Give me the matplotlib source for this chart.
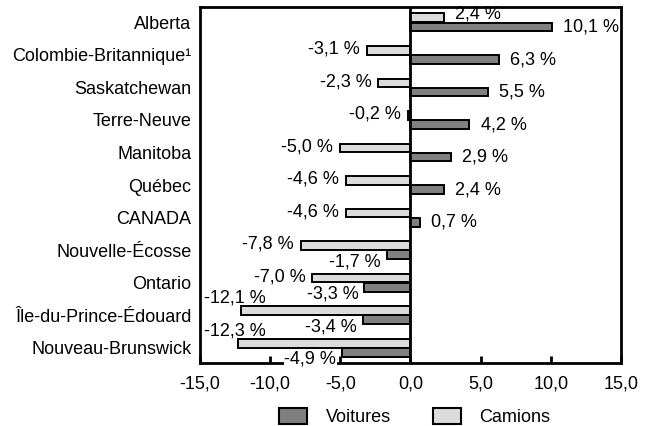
import numpy as np
import matplotlib
matplotlib.use("Agg")
import matplotlib.pyplot as plt
from matplotlib.patches import Patch

plt.rcParams['font.family'] = ['Liberation Sans', 'DejaVu Sans']

# provinces, du haut vers le bas
provinces = ["Alberta", "Colombie-Britannique¹", "Saskatchewan", "Terre-Neuve",
             "Manitoba", "Québec", "CANADA", "Nouvelle-Écosse", "Ontario",
             "Île-du-Prince-Édouard", "Nouveau-Brunswick"]
voitures = [10.1, 6.3, 5.5, 4.2, 2.9, 2.4, 0.7, -1.7, -3.3, -3.4, -4.9]
camions = [2.4, -3.1, -2.3, -0.2, -5.0, -4.6, -4.6, -7.8, -7.0, -12.1, -12.3]
xticks = [-15, -10, -5, 0, 5, 10, 15]

c_voit = "#808080"
c_cam = "#dcdcdc"
fs = 13

def fmt(v):
    return ("%.1f %%" % v).replace(".", ",")

fig = plt.figure(figsize=(6.49, 4.26), dpi=100)
ax = fig.add_axes([0.308, 0.148, 0.649, 0.836])

y = np.arange(len(provinces))
h = 0.27
ax.barh(y - 0.14, camions, height=h, color=c_cam, edgecolor="black", linewidth=1.4, zorder=2)
ax.barh(y + 0.14, voitures, height=h, color=c_voit, edgecolor="black", linewidth=1.4, zorder=2)

ax.set_xlim(-15, 15)
ax.set_ylim(10.47, -0.48)
ax.axvline(0, color="black", lw=2, zorder=3)

# etiquettes camions
for yi, v in zip(y, camions):
    if v >= 0:
        ax.annotate(fmt(v), (v, yi - 0.14), xytext=(8, 3), textcoords="offset points",
                    ha="left", va="center", fontsize=fs, zorder=4)
    elif v < -10.5:
        # pas de place a gauche: on met au-dessus
        ax.annotate(fmt(v), (-15, yi - 0.14), xytext=(3, 9), textcoords="offset points",
                    ha="left", va="center", fontsize=fs, zorder=4)
    else:
        ax.annotate(fmt(v), (v, yi - 0.14), xytext=(-5, 1), textcoords="offset points",
                    ha="right", va="center", fontsize=fs, zorder=4)

# etiquettes voitures
for yi, v in zip(y, voitures):
    if v >= 0:
        ax.annotate(fmt(v), (v, yi + 0.14), xytext=(8, 0), textcoords="offset points",
                    ha="left", va="center", fontsize=fs, zorder=4)
    else:
        ax.annotate(fmt(v), (v, yi + 0.14), xytext=(-4, -5), textcoords="offset points",
                    ha="right", va="center", fontsize=fs, zorder=4,
                    bbox=dict(fc="white", ec="none", pad=0.3))

ax.set_yticks(y)
ax.set_yticklabels(provinces, fontsize=fs)
ax.tick_params(axis="y", length=0, pad=6)
ax.set_xticks(xticks)
ax.set_xticklabels([("%.1f" % t).replace(".", ",") for t in xticks], fontsize=fs)
ax.tick_params(axis="x", direction="in", length=5, width=2, pad=9)
for s in ax.spines.values():
    s.set_linewidth(2)

handles = [Patch(facecolor=c_voit, edgecolor="black", linewidth=1.5, label="Voitures"),
           Patch(facecolor=c_cam, edgecolor="black", linewidth=1.5, label="Camions")]
fig.legend(handles=handles, loc="center", bbox_to_anchor=(0.639, 0.021), ncol=2,
           frameon=False, fontsize=fs, handlelength=1.55, handleheight=0.95,
           handletextpad=1.05, columnspacing=2.3)

fig.savefig("out.png", dpi=100)
